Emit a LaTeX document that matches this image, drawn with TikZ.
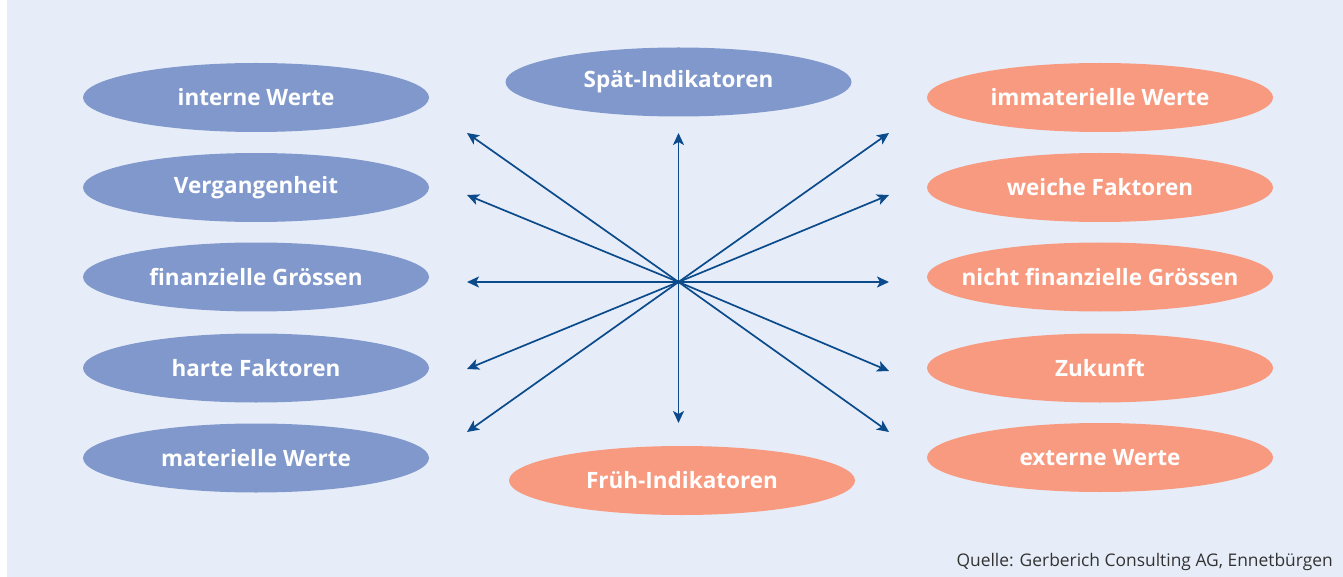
\documentclass[tikz,border=0pt]{standalone}
\usepackage{fontspec}
\setmainfont{Open Sans}
\usetikzlibrary{shapes.geometric,arrows.meta}
\definecolor{bg}{HTML}{E6EDF8}
\definecolor{ovblue}{HTML}{8098CB}
\definecolor{ovsalmon}{HTML}{F89A7F}
\definecolor{arrowblue}{HTML}{0B4A8B}
\definecolor{srcgray}{HTML}{333333}
\newcommand\ovtxt[1]{\makebox[0pt]{#1}}
\tikzset{
  oval/.style={ellipse, minimum width=346pt, minimum height=69pt, inner sep=0pt,
    text=white, font=\bfseries\fontsize{22.5}{26}\selectfont},
  ovalblue/.style={oval, fill=ovblue},
  ovalsalmon/.style={oval, fill=ovsalmon},
  ray/.style={draw=arrowblue, line width=1.7pt, -{Stealth[length=12pt,width=11pt,inset=3pt]}},
}
\begin{document}
\begin{tikzpicture}[x=1pt,y=-1pt]
\path[use as bounding box] (0,0) rectangle (1343,577);
\fill[bg] (7,0) rectangle (1343,577);

\node[ovalblue] (l1) at (256,97.5) {\ovtxt{interne Werte}};
\node[ovalblue] (l2) at (256,187.5) {\ovtxt{Vergangenheit}};
\node[ovalblue] (l3) at (256,277) {\ovtxt{finanzielle Grössen}};
\node[ovalblue] (l4) at (256,368) {\ovtxt{harte Faktoren}};
\node[ovalblue] (l5) at (256,458) {\ovtxt{materielle Werte}};

\node[ovalblue] (top) at (678.5,82) {\ovtxt{Spät-Indikatoren}};
\node[ovalsalmon] (bot) at (682,480.5) {\ovtxt{Früh-Indikatoren}};

\node[ovalsalmon] (r1) at (1100,97.5) {\ovtxt{immaterielle Werte}};
\node[ovalsalmon] (r2) at (1100,187.5) {\ovtxt{weiche Faktoren}};
\node[ovalsalmon] (r3) at (1100,277) {\ovtxt{nicht finanzielle Grössen}};
\node[ovalsalmon] (r4) at (1100,368) {\ovtxt{Zukunft}};
\node[ovalsalmon] (r5) at (1100,457.5) {\ovtxt{externe Werte}};

\coordinate (c) at (678.5,282);
\coordinate (tl1) at (467,133);
\coordinate (tl2) at (467,195);
\coordinate (tl3) at (467,282);
\coordinate (tl4) at (467,369);
\coordinate (tl5) at (467,432);
\coordinate (tup) at (678.5,133);
\coordinate (tdn) at (678.5,423);
\coordinate (tr1) at (889,133);
\coordinate (tr2) at (889,195);
\coordinate (tr3) at (889,282);
\coordinate (tr4) at (889,371);
\coordinate (tr5) at (889,432);

\foreach \t in {tl1,tl2,tl3,tl4,tl5,tup,tdn,tr1,tr2,tr3,tr4,tr5}
  \draw[ray] (c) -- (\t);

\node[anchor=base east, text=srcgray, font=\fontsize{17.4}{20}\selectfont, inner sep=0pt] (src) at (1333,566) {Quelle: Gerberich Consulting AG, Ennetbürgen};
\end{tikzpicture}
\end{document}
